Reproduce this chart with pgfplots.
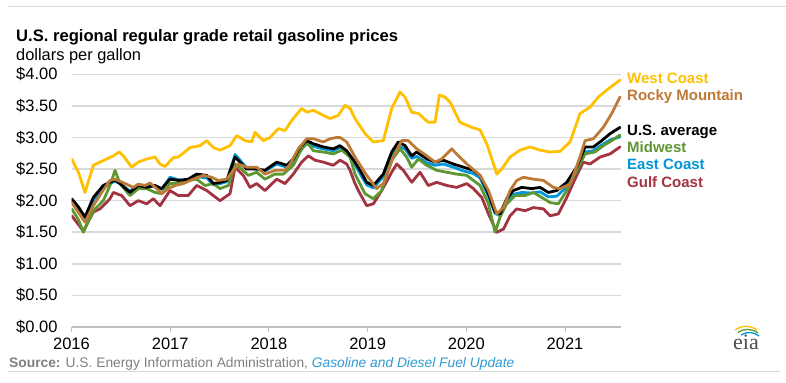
\documentclass[border=0pt]{standalone}
\usepackage{pgfplots}
\pgfplotsset{compat=1.18}
\usepackage{fontspec}
\setmainfont{Liberation Sans}
\newfontfamily\seriffont{Liberation Serif}
\definecolor{wc}{HTML}{FFC000}
\definecolor{rm}{HTML}{BD7A36}
\definecolor{mw}{HTML}{5D9732}
\definecolor{ec}{HTML}{0096D7}
\definecolor{gc}{HTML}{A33340}
\definecolor{gridc}{HTML}{D9D9D9}
\definecolor{axc}{HTML}{BFBFBF}
\definecolor{srcgray}{HTML}{7F7F7F}
\definecolor{linkblue}{HTML}{2E9AD0}
\begin{document}
\begin{tikzpicture}
\path[use as bounding box] (0bp,0bp) rectangle (786bp,383bp);
\draw[gridc, line width=1bp] (8bp,376bp) -- (786bp,376bp);
\draw[gridc, line width=1bp] (8bp,11bp) -- (780bp,11bp);
\begin{axis}[
  at={(71.5bp,56bp)}, anchor=south west, scale only axis,
  width=549.5bp, height=252.7bp,
  xmin=0, xmax=5.567, ymin=0, ymax=4,
  axis x line=bottom, axis y line=left,
  y axis line style={draw=none},
  x axis line style={draw=axc, line width=1.5bp, -},
  xtick={0,1,2,3,4,5},
  xticklabels={2016,2017,2018,2019,2020,2021},
  xtick align=outside,
  major tick length=5bp,
  xtick style={draw=axc, line width=1bp},
  ytick={0,0.5,1,1.5,2,2.5,3,3.5,4},
  ytick style={draw=none},
  yticklabel={\$\pgfmathprintnumber[fixed,fixed zerofill,precision=2,assume math mode=true]{\tick}},
  ticklabel style={font=\fontsize{16.5bp}{16.5bp}\selectfont, text=black},
  yticklabel style={xshift=-8bp},
  xticklabel style={yshift=-2bp},
  ymajorgrids, grid style={gridc, line width=1.5bp},
  every axis plot/.append style={line width=2.8bp, line join=round, line cap=round},
]
% Gulf Coast
\addplot[gc] coordinates {
(0.002,1.76)(0.120,1.52)(0.221,1.82)(0.289,1.87)(0.390,2.03)(0.424,2.13)(0.509,2.08)(0.593,1.92)
(0.677,2.00)(0.762,1.95)(0.829,2.03)(0.897,1.92)(0.998,2.16)(1.082,2.08)(1.183,2.08)(1.268,2.24)
(1.370,2.16)(1.437,2.08)(1.505,2.00)(1.606,2.11)(1.657,2.53)(1.741,2.40)(1.808,2.21)(1.876,2.27)
(1.960,2.16)(2.079,2.34)(2.163,2.27)(2.247,2.42)(2.332,2.61)(2.399,2.71)(2.467,2.64)(2.551,2.61)
(2.652,2.56)(2.720,2.64)(2.788,2.58)(2.822,2.48)(2.872,2.27)(2.923,2.11)(2.991,1.92)(3.058,1.95)
(3.143,2.16)(3.244,2.45)(3.295,2.58)(3.362,2.48)(3.447,2.29)(3.531,2.45)(3.615,2.24)(3.700,2.29)
(3.801,2.24)(3.903,2.21)(4.004,2.27)(4.072,2.19)(4.157,2.05)(4.224,1.79)(4.309,1.50)(4.376,1.55)
(4.443,1.76)(4.511,1.87)(4.595,1.84)(4.679,1.89)(4.781,1.87)(4.848,1.76)(4.932,1.79)(5.017,2.05)
(5.101,2.34)(5.184,2.61)(5.253,2.58)(5.355,2.69)(5.456,2.74)(5.557,2.85)};
% East Coast
\addplot[ec] coordinates {
(0.002,2.00)(0.070,1.86)(0.137,1.70)(0.221,2.01)(0.322,2.20)(0.390,2.27)(0.441,2.31)(0.491,2.27)
(0.593,2.15)(0.677,2.26)(0.762,2.22)(0.846,2.23)(0.914,2.18)(0.998,2.37)(1.082,2.33)(1.183,2.32)
(1.268,2.38)(1.370,2.36)(1.437,2.25)(1.505,2.27)(1.572,2.30)(1.657,2.73)(1.724,2.61)(1.775,2.52)
(1.876,2.50)(1.960,2.47)(2.079,2.58)(2.180,2.53)(2.247,2.62)(2.315,2.80)(2.383,2.90)(2.450,2.86)
(2.551,2.82)(2.652,2.79)(2.720,2.84)(2.788,2.76)(2.872,2.57)(2.923,2.43)(2.991,2.25)(3.058,2.20)
(3.159,2.38)(3.244,2.70)(3.311,2.86)(3.379,2.82)(3.447,2.67)(3.497,2.70)(3.599,2.60)(3.683,2.56)
(3.767,2.58)(3.868,2.53)(3.970,2.47)(4.072,2.43)(4.139,2.36)(4.224,2.07)(4.291,1.80)(4.342,1.76)
(4.409,1.97)(4.476,2.10)(4.561,2.13)(4.663,2.12)(4.747,2.14)(4.831,2.06)(4.916,2.07)(5.017,2.22)
(5.118,2.47)(5.203,2.77)(5.287,2.79)(5.372,2.88)(5.456,2.96)(5.557,3.01)};
% Midwest
\addplot[mw] coordinates {
(0.002,1.87)(0.070,1.70)(0.120,1.50)(0.221,1.84)(0.322,2.00)(0.390,2.24)(0.441,2.48)(0.491,2.27)
(0.593,2.08)(0.677,2.19)(0.762,2.19)(0.846,2.13)(0.914,2.11)(0.998,2.27)(1.099,2.27)(1.183,2.32)
(1.268,2.34)(1.353,2.24)(1.437,2.27)(1.505,2.19)(1.589,2.24)(1.657,2.58)(1.724,2.50)(1.791,2.40)
(1.876,2.45)(1.960,2.34)(2.062,2.42)(2.146,2.42)(2.247,2.56)(2.315,2.77)(2.383,2.93)(2.450,2.79)
(2.551,2.77)(2.652,2.74)(2.738,2.80)(2.822,2.69)(2.872,2.42)(2.974,2.11)(3.058,2.03)(3.143,2.16)
(3.244,2.64)(3.328,2.82)(3.396,2.69)(3.447,2.53)(3.514,2.66)(3.599,2.56)(3.700,2.48)(3.801,2.45)
(3.903,2.42)(4.004,2.40)(4.072,2.32)(4.139,2.24)(4.224,1.95)(4.291,1.50)(4.342,1.74)(4.409,1.95)
(4.494,2.08)(4.595,2.08)(4.679,2.13)(4.765,2.05)(4.848,1.97)(4.932,1.95)(5.017,2.16)(5.118,2.48)
(5.203,2.74)(5.304,2.77)(5.388,2.87)(5.473,2.95)(5.557,3.04)};
% U.S. average
\addplot[black] coordinates {
(0.002,2.03)(0.070,1.90)(0.137,1.74)(0.221,2.05)(0.322,2.24)(0.390,2.29)(0.441,2.33)(0.491,2.27)
(0.593,2.13)(0.677,2.24)(0.762,2.21)(0.846,2.24)(0.914,2.19)(0.998,2.34)(1.082,2.32)(1.183,2.34)
(1.268,2.42)(1.370,2.40)(1.437,2.27)(1.505,2.29)(1.572,2.32)(1.657,2.69)(1.724,2.58)(1.775,2.50)
(1.876,2.50)(1.960,2.48)(2.079,2.61)(2.180,2.56)(2.247,2.66)(2.315,2.85)(2.383,2.95)(2.450,2.90)
(2.551,2.85)(2.652,2.82)(2.720,2.87)(2.788,2.79)(2.872,2.61)(2.923,2.48)(2.991,2.29)(3.058,2.24)
(3.159,2.42)(3.244,2.77)(3.311,2.93)(3.379,2.87)(3.447,2.71)(3.497,2.77)(3.599,2.66)(3.683,2.61)
(3.767,2.64)(3.868,2.58)(3.970,2.53)(4.072,2.48)(4.139,2.40)(4.224,2.11)(4.291,1.82)(4.342,1.79)
(4.409,2.03)(4.476,2.16)(4.561,2.21)(4.663,2.19)(4.747,2.21)(4.831,2.13)(4.916,2.16)(5.017,2.29)
(5.118,2.53)(5.203,2.85)(5.287,2.85)(5.372,2.95)(5.456,3.06)(5.557,3.16)};
% Rocky Mountain
\addplot[rm] coordinates {
(0.002,1.97)(0.137,1.66)(0.221,1.92)(0.306,2.13)(0.390,2.32)(0.441,2.34)(0.559,2.26)(0.626,2.21)
(0.677,2.26)(0.745,2.24)(0.795,2.28)(0.863,2.19)(0.914,2.11)(0.981,2.19)(1.049,2.24)(1.133,2.27)
(1.234,2.34)(1.335,2.40)(1.420,2.37)(1.487,2.32)(1.572,2.34)(1.639,2.48)(1.690,2.58)(1.775,2.53)
(1.876,2.53)(1.960,2.42)(2.062,2.48)(2.163,2.48)(2.214,2.58)(2.298,2.82)(2.383,2.98)(2.450,2.98)
(2.551,2.93)(2.619,2.98)(2.687,3.00)(2.720,3.00)(2.788,2.93)(2.872,2.69)(2.991,2.40)(3.092,2.19)
(3.159,2.27)(3.260,2.69)(3.345,2.95)(3.412,2.95)(3.497,2.82)(3.599,2.71)(3.683,2.61)(3.751,2.66)
(3.852,2.82)(3.919,2.71)(4.020,2.56)(4.139,2.40)(4.224,2.16)(4.309,1.79)(4.376,1.89)(4.443,2.16)
(4.511,2.32)(4.578,2.37)(4.679,2.34)(4.781,2.32)(4.881,2.21)(4.949,2.19)(5.051,2.26)(5.152,2.69)
(5.203,2.95)(5.287,2.98)(5.388,3.16)(5.473,3.38)(5.557,3.64)};
% West Coast
\addplot[wc] coordinates {
(0.002,2.66)(0.070,2.45)(0.137,2.13)(0.221,2.56)(0.289,2.61)(0.357,2.66)(0.424,2.71)(0.484,2.77)
(0.525,2.71)(0.610,2.53)(0.677,2.61)(0.762,2.66)(0.846,2.69)(0.897,2.58)(0.947,2.54)(1.031,2.68)
(1.082,2.69)(1.201,2.84)(1.302,2.87)(1.370,2.95)(1.437,2.84)(1.505,2.80)(1.606,2.87)(1.674,3.03)
(1.758,2.95)(1.826,2.93)(1.859,3.08)(1.943,2.95)(2.011,3.00)(2.095,3.14)(2.163,3.11)(2.231,3.27)
(2.332,3.46)(2.383,3.40)(2.450,3.43)(2.551,3.35)(2.619,3.30)(2.703,3.35)(2.771,3.51)(2.822,3.46)
(2.872,3.30)(2.974,3.06)(3.058,2.93)(3.159,2.95)(3.244,3.46)(3.328,3.72)(3.379,3.64)(3.447,3.40)
(3.514,3.38)(3.615,3.24)(3.683,3.24)(3.726,3.67)(3.784,3.64)(3.835,3.56)(3.936,3.24)(4.055,3.16)
(4.139,3.12)(4.207,2.90)(4.309,2.42)(4.359,2.50)(4.443,2.69)(4.544,2.80)(4.645,2.85)(4.747,2.80)
(4.848,2.77)(4.949,2.78)(5.051,2.93)(5.152,3.38)(5.253,3.48)(5.337,3.64)(5.422,3.75)(5.507,3.85)
(5.557,3.91)};
\end{axis}
% titles
\node[anchor=base west, inner sep=0, font=\bfseries\fontsize{16.6bp}{16.6bp}\selectfont] at (16bp,341bp) {U.S. regional regular grade retail gasoline prices};
\node[anchor=base west, inner sep=0, font=\fontsize{16.4bp}{16.4bp}\selectfont] at (16bp,322bp) {dollars per gallon};
% series labels
\begin{scope}[every node/.style={anchor=base west, inner sep=0, font=\bfseries\fontsize{15bp}{15bp}\selectfont}]
\node[text=wc] at (627bp,299.3bp) {West Coast};
\node[text=rm] at (627bp,282.6bp) {Rocky Mountain};
\node[text=black] at (627bp,247.6bp) {U.S. average};
\node[text=mw] at (627bp,230.3bp) {Midwest};
\node[text=ec] at (627bp,213.6bp) {East Coast};
\node[text=gc] at (627bp,195.9bp) {Gulf Coast};
\end{scope}
% source
\node[anchor=base west, inner sep=0, text=srcgray, font=\fontsize{13.8bp}{13.8bp}\selectfont] at (9bp,16bp) {\textbf{Source:} U.S. Energy Information Administration, \textcolor{linkblue}{\itshape Gasoline and Diesel Fuel Update}};
% eia logo
\node[anchor=base, inner sep=0, text=black!70, font=\seriffont\fontsize{22bp}{22bp}\selectfont] at (746bp,34bp) {eia};
\draw[wc, line width=1.3bp] (735bp,53bp) to[bend left=35] (757bp,53bp);
\draw[mw, line width=1.3bp] (738bp,50.5bp) to[bend left=35] (758bp,50bp);
\draw[ec, line width=1.3bp] (741bp,48bp) to[bend left=35] (759bp,47bp);
\end{tikzpicture}
\end{document}
